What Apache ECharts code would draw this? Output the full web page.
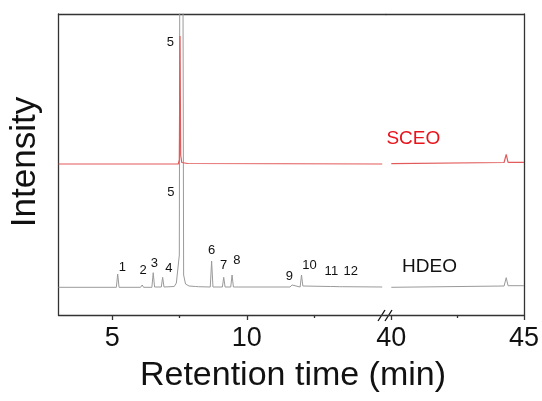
<!DOCTYPE html>
<html>
<head>
<meta charset="utf-8">
<script src="https://cdn.jsdelivr.net/npm/echarts@6/dist/echarts.min.js"></script>
<style>html,body{margin:0;padding:0;background:#fff}#c{width:542px;height:401px}</style>
</head>
<body>
<div id="c"></div>
<script>
// ---- data: retention time (min), intensity (a.u., SCEO trace offset upward) ----
const hdeoLeft = [
  [3.0,27.7],[5.15,27.7],[5.2,41],[5.25,27.7],[6.05,27.7],[6.11,30],[6.16,27.7],
  [6.47,27.7],[6.52,42.3],[6.57,28],[6.82,28],[6.87,37.7],[6.92,28],[7.3,28.5],
  [7.38,32],[7.44,30],[7.49,60],[7.51,400],[7.62,400],[7.65,40],[7.72,31],[7.85,29],
  [8.1,28.5],[8.15,29.5],[8.2,28.3],[8.64,28],[8.69,54],[8.74,28],[9.09,28],
  [9.14,37.7],[9.19,28],[9.4,28],[9.45,40],[9.5,28],[11.6,28],[11.68,30],[11.75,28],
  [11.98,28],[12.03,40],[12.08,29],[13.1,28.5],[13.15,29.5],[13.2,28.5],[13.45,28.3],
  [13.5,29.3],[13.55,28.3],[15.03,28]
];
const hdeoRight = [[40,27.7],[44.25,29],[44.33,37.3],[44.4,29.3],[45,29.3]];
const sceoLeft = [
  [3.0,151],[5.15,151],[5.2,152],[5.25,151],[7.45,151],[7.49,155],[7.515,279],
  [7.54,160],[7.58,152.5],[7.8,151.5],[15.03,151]
];
const sceoRight = [[40,151.3],[44.25,152.5],[44.33,160.7],[44.4,152.7],[45,152.7]];

// peak labels: [time, height, text]
const peakLabels = [
  [5.37,47.3,'1'],[6.14,44.7,'2'],[6.56,51.3,'3'],[7.10,47,'4'],[7.18,123,'5'],
  [7.16,272.7,'5'],[8.69,64.3,'6'],[9.14,49.7,'7'],[9.63,55,'8'],[11.58,38.7,'9'],
  [12.33,50,'10'],[13.14,44,'11'],[13.86,44,'12']
];
const seriesNames = [[41.44,48.3,'HDEO','#111111'],[40.83,176,'SCEO','#e8131b']];

const majorLeft = [5,10], minorLeft = [7.5,12.5];
const majorRight = [40,45], minorRight = [42.5];

const FONT = 'Liberation Sans, Arial, sans-serif';
const axisColor = '#333';

const chart = echarts.init(document.getElementById('c'), null, {renderer:'canvas'});

function bottomAxis(grid, min, max, ticks, labels, len){
  return {
    type:'value', gridIndex:grid, position:'bottom', min:min, max:max,
    axisLine:{show: labels.length>0, onZero:false, lineStyle:{color:axisColor,width:1.3}},
    axisTick:{show:true, customValues:ticks, length:len, inside:false, lineStyle:{color:axisColor,width:1.3}},
    axisLabel:{show: labels.length>0, customValues:labels, fontSize:27, color:'#111', margin:10, fontFamily:FONT},
    splitLine:{show:false}
  };
}
function topAxis(grid, min, max){
  return {type:'value', gridIndex:grid, position:'top', min:min, max:max,
    axisLine:{show:true, onZero:false, lineStyle:{color:axisColor,width:1.3}},
    axisTick:{show:false}, axisLabel:{show:false}, splitLine:{show:false}};
}
function yAx(grid, pos){
  return {type:'value', gridIndex:grid, position:pos, min:0, max:301,
    axisLine:{show:true, onZero:false, lineStyle:{color:axisColor,width:1.3}},
    axisTick:{show:false}, axisLabel:{show:false}, splitLine:{show:false}};
}

const labelSeries = (data, xi, yi, fs) => ({
  type:'scatter', xAxisIndex:xi, yAxisIndex:yi, symbolSize:1, silent:true,
  itemStyle:{color:'rgba(0,0,0,0)', opacity:1},
  data:data.map(d=>({value:[d[0],d[1]], name:d[2], label:{color:d[3]||'#111'}})),
  label:{show:true, position:'inside', formatter:p=>p.name, fontSize:fs, fontFamily:FONT, color:'#111', opacity:1}
});

chart.setOption({
  animation:false,
  backgroundColor:'#fff',
  grid:[
    {left:58.5, top:14, width:327.5, height:301},
    {left:386, top:14, width:139.7, height:301}
  ],
  xAxis:[
    bottomAxis(0,3,15.17,majorLeft,majorLeft,5),
    bottomAxis(0,3,15.17,minorLeft,[],3),
    topAxis(0,3,15.17),
    bottomAxis(1,39.8,45,majorRight,majorRight,5),
    bottomAxis(1,39.8,45,minorRight,[],3),
    topAxis(1,39.8,45)
  ],
  yAxis:[yAx(0,'left'), yAx(1,'right')],
  series:[
    {type:'line', xAxisIndex:0, yAxisIndex:0, data:hdeoLeft, showSymbol:false, clip:true,
      lineStyle:{color:'#9a9a9a', width:1}},
    {type:'line', xAxisIndex:3, yAxisIndex:1, data:hdeoRight, showSymbol:false, clip:true,
      lineStyle:{color:'#9a9a9a', width:1}},
    {type:'line', xAxisIndex:0, yAxisIndex:0, data:sceoLeft, showSymbol:false, clip:true,
      lineStyle:{color:'#e25a5a', width:1.2}},
    {type:'line', xAxisIndex:3, yAxisIndex:1, data:sceoRight, showSymbol:false, clip:true,
      lineStyle:{color:'#e25a5a', width:1.2}},
    labelSeries(peakLabels,0,0,13),
    labelSeries(seriesNames,3,1,19)
  ],
  graphic:[
    {type:'text', x:293, y:376, style:{text:'Retention time (min)', font:'34px '+FONT, fill:'#111', align:'center', verticalAlign:'middle'}},
    {type:'text', x:25, y:162, rotation:Math.PI/2, style:{text:'Intensity', font:'35px '+FONT, fill:'#111', align:'center', verticalAlign:'middle'}},
    {type:'line', shape:{x1:378, y1:321, x2:385, y2:310}, style:{stroke:'#111', lineWidth:1.3}},
    {type:'line', shape:{x1:385, y1:321, x2:392, y2:310}, style:{stroke:'#111', lineWidth:1.3}}
  ]
});
</script>
</body>
</html>
